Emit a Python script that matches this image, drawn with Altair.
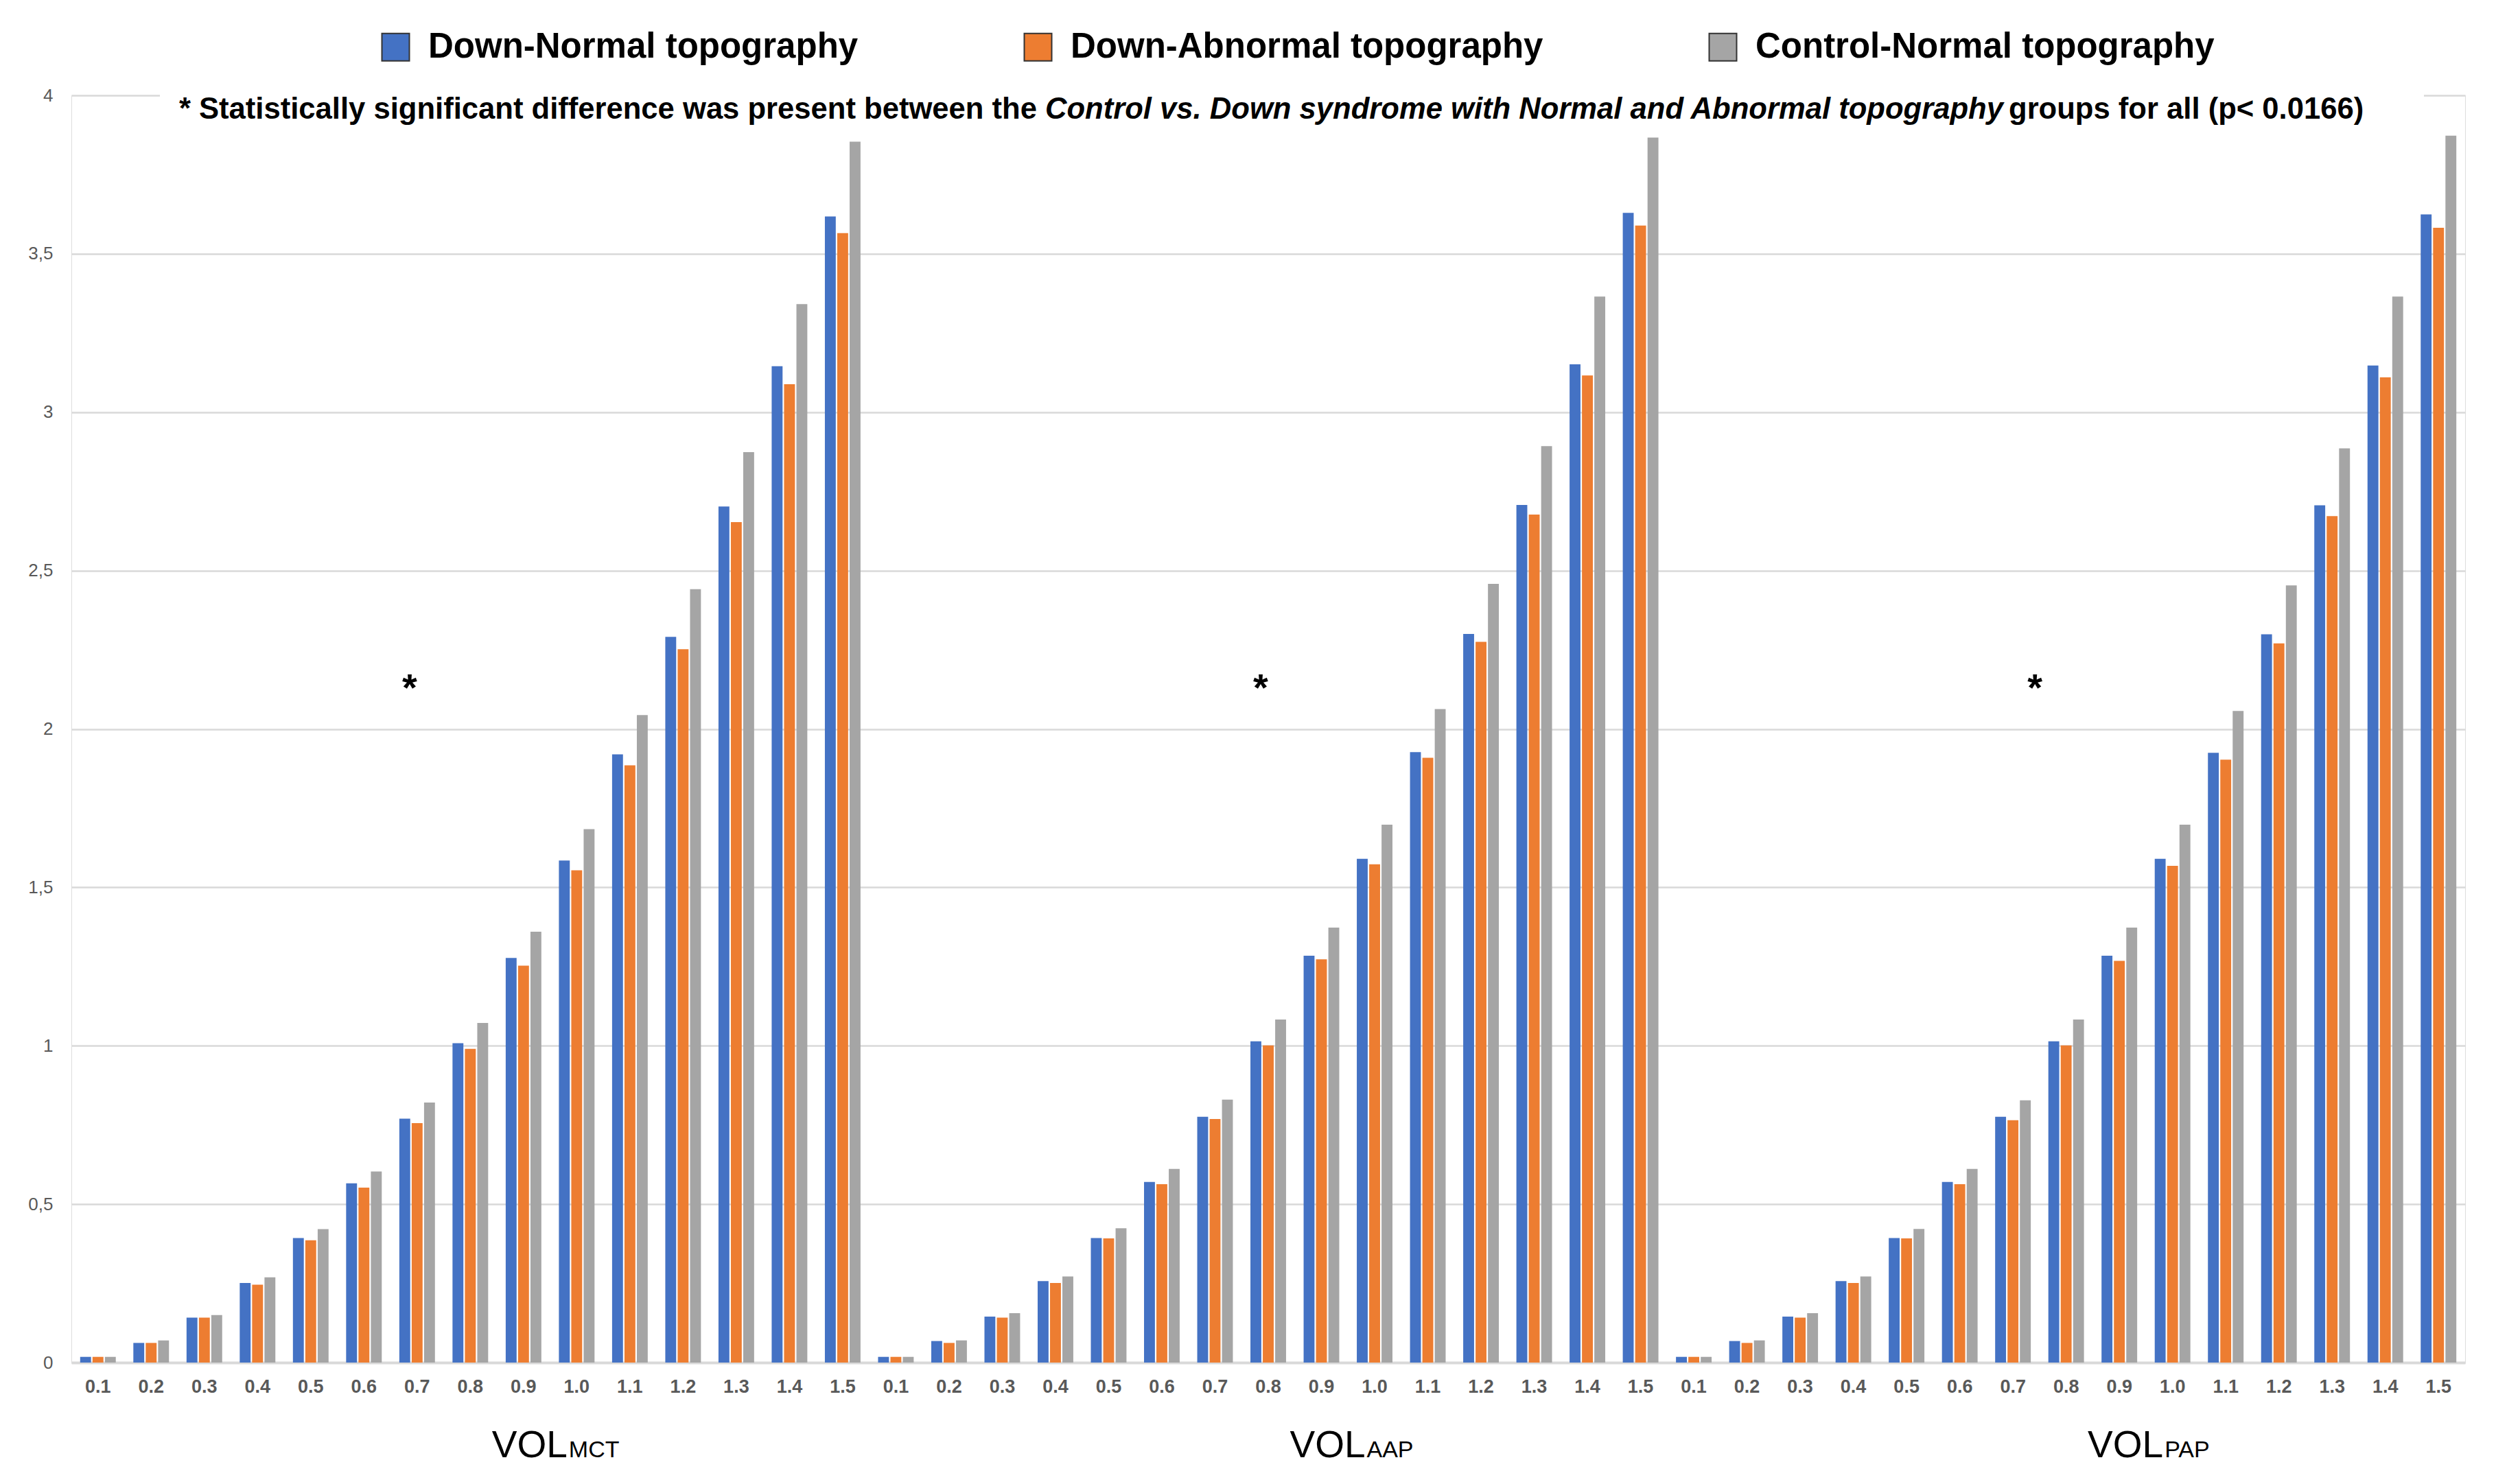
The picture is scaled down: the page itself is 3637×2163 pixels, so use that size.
import altair as alt
import pandas as pd

thresholds = ["0.1", "0.2", "0.3", "0.4", "0.5", "0.6", "0.7", "0.8",
              "0.9", "1.0", "1.1", "1.2", "1.3", "1.4", "1.5"]
groups = ["MCT", "AAP", "PAP"]
series = ["Down-Normal topography", "Down-Abnormal topography", "Control-Normal topography"]
colors = ["#4472C4", "#ED7D31", "#A5A5A5"]

mct_down_normal = [0.018, 0.062, 0.142, 0.251, 0.393, 0.566, 0.770, 1.008, 1.277, 1.585, 1.920, 2.291, 2.702, 3.145, 3.618]
mct_down_abnormal = [0.018, 0.062, 0.142, 0.246, 0.386, 0.552, 0.756, 0.990, 1.253, 1.554, 1.885, 2.252, 2.653, 3.088, 3.565]
mct_control_normal = [0.018, 0.070, 0.150, 0.269, 0.421, 0.603, 0.821, 1.072, 1.360, 1.684, 2.044, 2.441, 2.874, 3.341, 3.854]

aap_down_normal = [0.018, 0.068, 0.145, 0.257, 0.393, 0.570, 0.776, 1.014, 1.284, 1.590, 1.927, 2.300, 2.707, 3.151, 3.629]
aap_down_abnormal = [0.018, 0.062, 0.142, 0.251, 0.392, 0.563, 0.769, 1.001, 1.273, 1.573, 1.909, 2.275, 2.677, 3.116, 3.589]
aap_control_normal = [0.018, 0.070, 0.156, 0.272, 0.424, 0.611, 0.830, 1.083, 1.373, 1.698, 2.063, 2.458, 2.893, 3.365, 3.867]

pap_down_normal = [0.018, 0.068, 0.145, 0.257, 0.393, 0.570, 0.776, 1.014, 1.284, 1.590, 1.925, 2.299, 2.706, 3.147, 3.624]
pap_down_abnormal = [0.018, 0.062, 0.142, 0.251, 0.392, 0.563, 0.765, 1.001, 1.268, 1.568, 1.903, 2.270, 2.672, 3.110, 3.582]
pap_control_normal = [0.018, 0.070, 0.156, 0.272, 0.422, 0.611, 0.828, 1.083, 1.373, 1.698, 2.057, 2.453, 2.886, 3.365, 3.873]

values = {
    "MCT": [mct_down_normal, mct_down_abnormal, mct_control_normal],
    "AAP": [aap_down_normal, aap_down_abnormal, aap_control_normal],
    "PAP": [pap_down_normal, pap_down_abnormal, pap_control_normal],
}

keys = [f"{g}_{t}" for g in groups for t in thresholds]

rows = []
for g in groups:
    for s_name, vals in zip(series, values[g]):
        for t, v in zip(thresholds, vals):
            rows.append({"key": f"{g}_{t}", "series": s_name, "value": v})
df = pd.DataFrame(rows)

group_labels = pd.DataFrame({"key": [f"{g}_0.9" for g in groups], "main": ["VOL"] * 3, "sub": groups})
stars_a = pd.DataFrame({"key": ["MCT_0.7", "AAP_0.8"], "t": ["*", "*"]})
stars_b = pd.DataFrame({"key": ["PAP_0.7"], "t": ["*"]})

note_1 = "* Statistically significant difference was present between the"
note_2 = "Control vs. Down syndrome with Normal and Abnormal topography"
note_3 = "groups for all (p< 0.0166)"

W, H = 3488, 1847
FONT = "Liberation Sans"
NOTE_SIZE = 43.6

xaxis = alt.Axis(title=None, labelAngle=0, ticks=False, grid=False,
                 domain=True, domainColor="#D9D9D9", domainWidth=4,
                 labelExpr="split(datum.label, '_')[1]",
                 labelFont=FONT, labelFontSize=27, labelFontWeight="bold",
                 labelColor="#595959", labelPadding=22)
xscale = alt.Scale(paddingInner=0.33, paddingOuter=0.165)


def xenc():
    return alt.X("key:N", sort=keys, scale=xscale, axis=xaxis)


bars = alt.Chart(df).mark_bar().encode(
    x=xenc(),
    xOffset=alt.XOffset("series:N", sort=series, scale=alt.Scale(paddingInner=0.12, paddingOuter=0)),
    y=alt.Y("value:Q", scale=alt.Scale(domain=[0, 4], nice=False),
            axis=alt.Axis(title=None, values=[0, 0.5, 1, 1.5, 2, 2.5, 3, 3.5, 4],
                          labelExpr="replace(toString(datum.value), '.', ',')",
                          grid=True, gridColor="#D9D9D9", gridWidth=2.5,
                          domain=False, ticks=False, labelFont=FONT, labelFontSize=26,
                          labelColor="#595959", labelPadding=27)),
    color=alt.Color("series:N", sort=series,
                    scale=alt.Scale(domain=series, range=colors),
                    legend=alt.Legend(title=None, orient="none", legendX=447, legendY=-96,
                                      direction="horizontal", symbolType="square",
                                      symbolSize=1600, symbolStrokeColor="#333333",
                                      symbolStrokeWidth=2, labelFont=FONT,
                                      labelFontSize=51, labelFontWeight="bold",
                                      labelColor="#000000", labelOffset=22,
                                      columnPadding=236, padding=0, labelLimit=2000)),
)

mask = alt.Chart(pd.DataFrame({"a": [0]})).mark_rect(color="white").encode(
    x=alt.value(129), x2=alt.value(3428), y=alt.value(-12), y2=alt.value(46))

note_a = alt.Chart(pd.DataFrame({"t": [note_1]})).mark_text(
    font=FONT, fontSize=NOTE_SIZE, fontWeight="bold", align="right", baseline="alphabetic", color="black"
).encode(x=alt.value(1407), y=alt.value(34), text="t:N")
note_b = alt.Chart(pd.DataFrame({"t": [note_2]})).mark_text(
    font=FONT, fontSize=NOTE_SIZE, fontWeight="bold", fontStyle="italic", align="left",
    baseline="alphabetic", color="black"
).encode(x=alt.value(1419), y=alt.value(34), text="t:N")
note_c = alt.Chart(pd.DataFrame({"t": [note_3]})).mark_text(
    font=FONT, fontSize=NOTE_SIZE, fontWeight="bold", align="left", baseline="alphabetic", color="black"
).encode(x=alt.value(2823), y=alt.value(34), text="t:N")

star_layer_a = alt.Chart(stars_a).mark_text(
    font=FONT, fontSize=56, fontWeight="bold", dx=-11, baseline="alphabetic", color="black"
).encode(x=xenc(), y=alt.value(882), text="t:N")
star_layer_b = alt.Chart(stars_b).mark_text(
    font=FONT, fontSize=56, fontWeight="bold", dx=32, baseline="alphabetic", color="black"
).encode(x=xenc(), y=alt.value(882), text="t:N")

lab_main = alt.Chart(group_labels).mark_text(
    font=FONT, fontSize=55, align="right", baseline="alphabetic", dx=64, color="black"
).encode(x=xenc(), y=alt.value(H + 138), text="main:N")
lab_sub = alt.Chart(group_labels).mark_text(
    font=FONT, fontSize=34, align="left", baseline="alphabetic", dx=66, color="black"
).encode(x=xenc(), y=alt.value(H + 138), text="sub:N")

chart = alt.layer(bars, mask, note_a, note_b, note_c, star_layer_a, star_layer_b,
                  lab_main, lab_sub).properties(
    width=W, height=H,
    autosize=alt.AutoSizeParams(type="none"),
    padding={"left": 96, "top": 131, "right": 30, "bottom": 160},
).configure_view(stroke=None).configure(background="white")

chart.save("out.html", embed_options={"renderer": "svg", "actions": False})
